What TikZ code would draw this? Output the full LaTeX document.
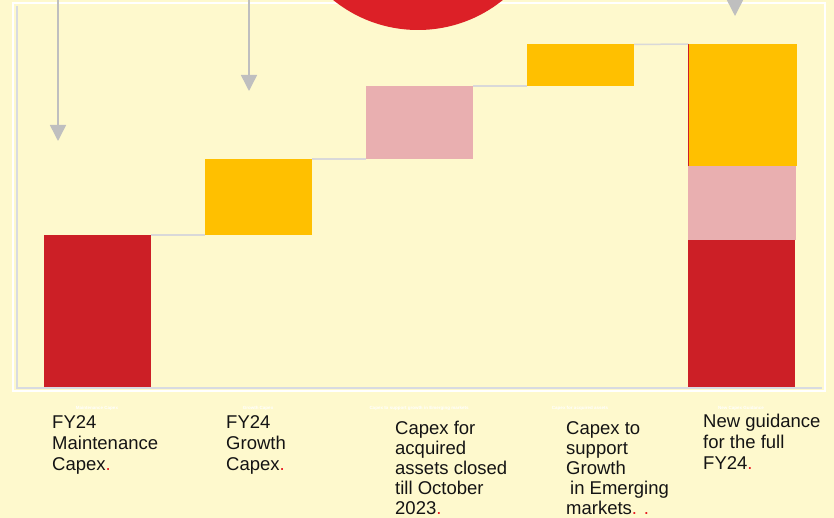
\documentclass[tikz,border=0pt]{standalone}
\usepackage{fontspec}
\setmainfont{Liberation Sans}
\usetikzlibrary{arrows.meta}
\definecolor{backdrop}{RGB}{254,249,205}
\definecolor{maintred}{RGB}{204,31,38}
\definecolor{growthyellow}{RGB}{255,192,0}
\definecolor{acquiredpink}{RGB}{233,175,176}
\definecolor{circlered}{RGB}{220,32,39}
\definecolor{pointergray}{RGB}{191,191,191}
\definecolor{axisgray}{RGB}{216,219,225}
\definecolor{linkgray}{RGB}{217,217,217}
\definecolor{labeltext}{RGB}{20,20,20}
\definecolor{dotred}{RGB}{232,28,36}
\tikzstyle{bar}=[draw=none, inner sep=0pt, outer sep=0pt, anchor=north west]
\tikzstyle{link}=[draw=linkgray, line width=1.5pt]
\tikzstyle{pointer}=[draw=pointergray, line width=1.5pt, -{Triangle[width=16pt,length=16pt]}]
\tikzstyle{caption}=[anchor=north west, inner sep=0pt, align=left, text=labeltext]
\tikzstyle{tag}=[inner sep=0pt, text=white, font=\fontsize{4.5}{5}\selectfont\bfseries]
\newcommand{\reddot}{\textcolor{dotred}{.}}

\begin{document}
\begin{tikzpicture}[x=1pt, y=-1pt]
    \useasboundingbox (0,0) rectangle (834,518);
    \clip (0,0) rectangle (834,518);
    \fill[backdrop] (0,0) rectangle (834,518);

    % frame and axes
    \draw[white, line width=1.5pt] (13,3) rectangle (825,391);
    \draw[axisgray, line width=2pt] (16.5,6) -- (16.5,387.5) -- (822,387.5);
    \fill[circlered] (418,-105) circle (135);

    % bars
    \node[bar, fill=maintred, minimum width=107pt, minimum height=152pt] (maint) at (44,235) {};
    \node[bar, fill=growthyellow, minimum width=107pt, minimum height=76pt] (growth) at (205,159) {};
    \node[bar, fill=acquiredpink, minimum width=107pt, minimum height=73pt] (acquired) at (366,86) {};
    \node[bar, fill=growthyellow, minimum width=107pt, minimum height=41.5pt] (emerging) at (527,44.5) {};
    \node[bar, fill=maintred, minimum width=107pt, minimum height=147pt] (newred) at (688,240) {};
    \node[bar, fill=acquiredpink, minimum width=108pt, minimum height=74pt] (newpink) at (688,166) {};
    \node[bar, fill=growthyellow, minimum width=109pt, minimum height=122pt] (newyellow) at (688,44) {};
    \draw[maintred, line width=1pt] (newyellow.north west) -- (newyellow.south west);

    % steps between bars
    \draw[link] (maint.north east) -- (growth.south west);
    \draw[link] (growth.north east) -- (acquired.south west);
    \draw[link] (acquired.north east) -- (emerging.south west);
    \draw[link] (emerging.north east) -- (newyellow.north west);

    % pointers from above
    \coordinate (maintfrom) at (58,-2);
    \coordinate (mainttip) at (58,141);
    \coordinate (growthfrom) at (249,-2);
    \coordinate (growthtip) at (249,91);
    \coordinate (newfrom) at (735,-2);
    \coordinate (newtip) at (735,16);
    \draw[pointer] (maintfrom) -- (mainttip);
    \draw[pointer] (growthfrom) -- (growthtip);
    \draw[pointer] (newfrom) -- (newtip);

    % small tags
    \node[tag] (maintag) at (97,408) {Maintenance Capex};
    \node[tag] (growthtag) at (258,408) {Growth Capex};
    \node[tag] (acquiredtag) at (419,408) {Capex to support growth in Emerging markets};
    \node[tag] (emergingtag) at (580,408) {Capex for acquired assets};
    \node[tag] (newtag) at (741,408) {New Capex Guidance};

    % captions
    \node[caption, font=\fontsize{18.5}{21}\selectfont] (maintlabel) at (52,415)
        {FY24\\Maintenance\\Capex\reddot};
    \node[caption, font=\fontsize{18.5}{21}\selectfont] (growthlabel) at (226,415)
        {FY24\\Growth\\Capex\reddot};
    \node[caption, font=\fontsize{18.5}{20}\selectfont] (acquiredlabel) at (395,421)
        {Capex for\\acquired\\assets closed\\till October\\2023\reddot};
    \node[caption, font=\fontsize{18.5}{20}\selectfont] (emerginglabel) at (566,421)
        {Capex to\\support\\Growth\\\hspace*{4pt}in Emerging\\markets\textcolor{dotred}{. .}};
    \node[caption, font=\fontsize{18.5}{21}\selectfont] (newlabel) at (703,414)
        {New guidance\\for the full\\FY24\reddot};
\end{tikzpicture}
\end{document}
